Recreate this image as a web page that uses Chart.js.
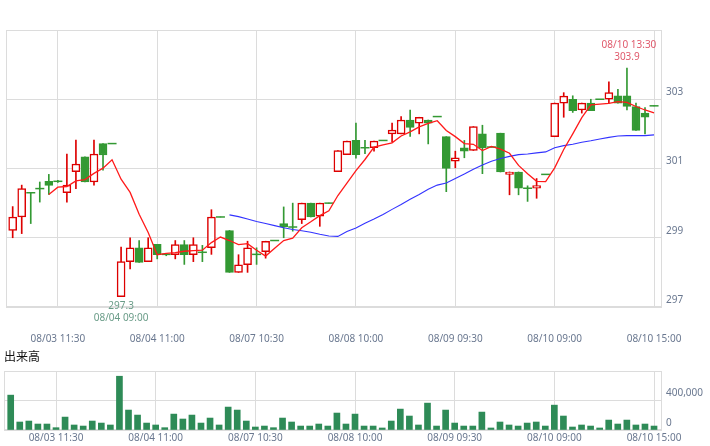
<!DOCTYPE html>
<html>
<head>
<meta charset="utf-8">
<script src="https://cdn.jsdelivr.net/npm/chart.js@4.4.1/dist/chart.umd.min.js"></script>
<style>
html,body{margin:0;padding:0;background:#fff;overflow:hidden}
#wrap{position:relative;width:710px;height:446px}
#main{position:absolute;left:0;top:0}
#vol{position:absolute;left:0;top:350px}
#volTitle{position:absolute;left:4px;top:347px;font-family:"Noto Sans CJK JP",sans-serif;font-size:12px;line-height:18px;color:#111}
</style>
</head>
<body>
<div id="wrap">
<canvas id="main" width="710" height="350"></canvas>
<div id="volTitle">出来高</div>
<canvas id="vol" width="710" height="96"></canvas>
</div>
<script>
// ---------- data ----------
const days = ['08/03','08/04','08/07','08/08','08/09','08/10'];
const sessions = ['09:00','09:30','10:00','10:30','11:00','11:30','12:30','13:00','13:30','14:00','14:30','15:00'];
const categories = days.flatMap(d => sessions.map(s => d + ' ' + s));

const open  = [299.21,299.60,300.30,300.42,300.63,300.63,300.30,300.91,301.34,300.61,301.72,301.72,
               297.30,298.31,298.71,298.31,298.81,298.52,298.51,298.80,298.51,298.58,298.71,299.60,
               299.21,298.00,298.22,298.52,298.60,298.92,299.41,299.31,299.52,300.00,299.62,300.00,
               300.91,301.40,301.81,301.60,301.60,301.81,302.00,302.00,302.40,302.31,302.40,302.50,
               301.92,301.21,301.60,301.52,302.00,301.62,302.02,300.83,300.90,300.43,300.43,300.83,
               301.92,302.89,303.00,302.69,302.89,303.00,303.00,303.10,303.10,302.79,302.60,302.81];
const high  = [299.90,300.52,300.30,300.61,300.83,300.66,301.42,301.82,301.34,301.82,301.72,301.72,
               298.73,299.00,298.92,299.00,298.81,298.55,298.92,298.92,299.00,298.78,299.81,299.60,
               299.21,298.51,298.90,298.71,298.90,298.92,299.89,300.00,300.00,300.00,300.00,300.00,
               301.52,301.79,302.31,301.81,301.79,301.81,302.31,302.50,302.69,302.48,302.40,302.50,
               301.92,301.50,301.81,302.21,302.25,301.62,302.02,300.90,300.90,300.50,300.71,300.83,
               302.89,303.19,303.10,302.89,303.00,303.00,303.50,303.29,303.90,302.89,302.76,302.81];
const low   = [299.00,299.12,299.41,300.03,300.25,300.60,300.03,300.42,300.61,300.52,300.95,301.72,
               297.30,298.10,298.29,298.31,298.39,298.48,298.39,298.23,298.31,298.31,298.52,299.60,
               298.00,298.00,298.00,298.23,298.41,298.92,299.00,299.19,299.41,299.60,299.33,300.00,
               300.91,301.40,301.30,301.43,301.50,301.81,301.76,302.00,301.93,302.00,301.71,302.50,
               300.33,301.02,301.31,301.52,300.85,301.62,300.90,300.24,300.24,300.05,300.14,300.83,
               301.92,302.48,302.62,302.60,302.67,303.00,302.89,302.89,302.69,302.10,302.00,302.81];
const close = [299.60,300.42,300.30,300.42,300.51,300.63,300.52,301.13,300.61,301.42,301.39,301.72,
               298.31,298.71,298.29,298.71,298.51,298.52,298.80,298.51,298.80,298.58,299.60,299.60,
               298.00,298.22,298.71,298.52,298.90,298.92,299.31,299.31,300.00,299.60,300.00,300.00,
               301.52,301.79,301.40,301.60,301.79,301.81,302.11,302.40,302.19,302.48,302.31,302.50,
               301.00,301.31,301.50,302.21,301.60,301.62,300.90,300.90,300.43,300.43,300.51,300.83,
               302.89,303.09,302.67,302.89,302.67,303.00,303.19,302.89,302.79,302.10,302.48,302.81];
const ma5   = [null,null,null,null,300.25,300.46,300.48,300.64,300.68,300.86,301.01,301.25,
               300.69,300.31,299.68,299.15,298.51,298.55,298.57,298.61,298.63,298.64,298.86,299.02,
               298.92,298.80,298.83,298.64,298.47,298.70,298.92,298.99,299.29,299.46,299.64,299.78,
               300.22,300.58,300.94,301.26,301.62,301.68,301.74,301.94,302.06,302.20,302.30,302.38,
               302.10,301.92,301.72,301.70,301.52,301.64,301.56,301.44,301.09,300.85,300.63,300.62,
               301.02,301.55,302.00,302.47,302.84,302.86,302.88,302.93,302.91,302.79,302.69,302.61];
const ma25  = [null,null,null,null,null,null,null,null,null,null,null,null,
               null,null,null,null,null,null,null,null,null,null,null,null,
               299.66,299.61,299.54,299.47,299.41,299.35,299.29,299.24,299.20,299.16,299.10,299.05,
               299.04,299.18,299.28,299.42,299.54,299.67,299.82,299.96,300.11,300.25,300.40,300.52,
               300.58,300.71,300.84,300.98,301.10,301.21,301.29,301.35,301.40,301.42,301.45,301.48,
               301.60,301.66,301.70,301.76,301.80,301.85,301.90,301.94,301.95,301.95,301.95,301.97];
const volume = [467000,107000,120000,80000,80000,31000,173000,67000,53000,120000,93000,67000,
                720000,267000,200000,93000,67000,31000,213000,147000,200000,93000,160000,67000,
                307000,267000,120000,40000,53000,31000,160000,107000,53000,53000,80000,53000,
                227000,80000,213000,53000,53000,27000,120000,280000,187000,67000,360000,53000,
                267000,93000,53000,53000,240000,27000,107000,67000,53000,93000,107000,53000,
                333000,187000,40000,67000,53000,27000,133000,80000,133000,67000,80000,53000];

const xTickLabels = ['08/03 11:30','08/04 11:00','08/07 10:30','08/08 10:00','08/09 09:30','08/10 09:00','08/10 15:00'];
const priceTicks = [297, 299, 301, 303, 305];
const priceTickLabels = ['297', '299', '301', '303', ''];
const volTicks = [0, 400000];
const volTickLabels = ['0', '400,000'];
const priceMin = 297, priceMax = 305;
const volMin = 0, volMax = 790000;

// ---------- styles ----------
const RED = '#dd0000';
const GREEN = '#339933';
const VOL_GREEN = '#2e8b57';
const GRID = '#dcdcdc';
const TICK_COLOR = '#6a7890';
const FONT = {family: "'Noto Sans', 'DejaVu Sans', sans-serif", size: 10};

const idx = categories.map((_, i) => i);
const xTickPos = xTickLabels.map(l => categories.indexOf(l));

function xScale(pad, height) {
  return {
    type: 'linear', min: -0.74, max: 71.88, offset: false, bounds: 'data',
    afterBuildTicks: s => { s.ticks = xTickPos.map(v => ({value: v})); },
    afterFit: s => { s.height = height; s.paddingLeft = 0; s.paddingRight = 0; },
    ticks: {
      callback: v => categories[v], color: TICK_COLOR, font: FONT,
      padding: pad, maxRotation: 0, minRotation: 0, autoSkip: false
    },
    grid: {color: GRID, drawTicks: false, offset: false, lineWidth: 1},
    border: {display: false}
  };
}
function yScale(min, max, ticks, labels) {
  return {
    position: 'right', min: min, max: max, beginAtZero: false, bounds: 'data',
    afterBuildTicks: s => { s.ticks = ticks.map(v => ({value: v})); },
    afterFit: s => { s.width = 48; s.paddingTop = 0; s.paddingBottom = 0; },
    ticks: {
      callback: v => labels[ticks.indexOf(v)], color: TICK_COLOR, font: FONT,
      padding: 4, labelOffset: -7, autoSkip: false
    },
    grid: {color: GRID, drawTicks: false, lineWidth: 1},
    border: {display: false}
  };
}

const boxPlugin = {
  id: 'box',
  beforeDatasetsDraw(chart) {
    const {ctx, chartArea: a} = chart;
    ctx.save();
    ctx.strokeStyle = GRID; ctx.lineWidth = 1;
    ctx.strokeRect(Math.round(a.left) + 0.5, Math.round(a.top) + 0.5,
                   Math.round(a.right - a.left) - 1, Math.round(a.bottom - a.top) - 1);
    ctx.restore();
  }
};

const extremesPlugin = {
  id: 'extremes',
  afterDatasetsDraw(chart) {
    const {ctx, scales: {x, y}} = chart;
    const hiI = high.indexOf(Math.max(...high));
    const loI = low.indexOf(Math.min(...low));
    ctx.save();
    ctx.font = "10px 'Noto Sans', 'DejaVu Sans', sans-serif";
    ctx.textAlign = 'center'; ctx.textBaseline = 'middle';
    const hx = x.getPixelForValue(hiI), hy = y.getPixelForValue(high[hiI]);
    ctx.fillStyle = '#e05a6c';
    ctx.fillText(categories[hiI], hx + 2, hy - 23);
    ctx.fillText(high[hiI].toFixed(1), hx, hy - 10.5);
    const lx = x.getPixelForValue(loI), ly = y.getPixelForValue(low[loI]);
    ctx.fillStyle = '#6a9c88';
    ctx.fillText(low[loI].toFixed(1), lx, ly + 9.5);
    ctx.fillText(categories[loI], lx, ly + 22);
    ctx.restore();
  }
};

const isUp = i => close[i] > open[i];
const isDoji = i => close[i] === open[i];

new Chart(document.getElementById('main'), {
  type: 'bar',
  data: {
    datasets: [
      {
        type: 'line', label: 'MA5', order: 0,
        data: idx.map(i => ({x: i, y: ma5[i]})),
        borderColor: '#ff1a1a', borderWidth: 1.3, pointRadius: 0, tension: 0, spanGaps: false
      },
      {
        type: 'line', label: 'MA25', order: 0,
        data: idx.map(i => ({x: i, y: ma25[i]})),
        borderColor: '#3333ff', borderWidth: 1.1, pointRadius: 0, tension: 0, spanGaps: false
      },
      {
        type: 'line', label: 'doji', order: 1, showLine: false,
        data: idx.filter(isDoji).map(i => ({x: i, y: open[i]})),
        pointStyle: 'line', pointRadius: 4.5, pointHoverRadius: 4.5,
        pointBorderColor: GREEN, pointBackgroundColor: GREEN, pointBorderWidth: 1.5
      },
      {
        type: 'bar', label: 'body', order: 2, grouped: false,
        data: idx.filter(i => !isDoji(i)).map(i => ({x: i, y: [open[i], close[i]]})),
        barThickness: 8, borderSkipped: false, borderWidth: 1.5,
        backgroundColor: c => (c.raw && c.raw.y[1] > c.raw.y[0]) ? '#ffffff' : GREEN,
        borderColor: c => (c.raw && c.raw.y[1] > c.raw.y[0]) ? RED : GREEN
      },
      {
        type: 'bar', label: 'wick', order: 3, grouped: false,
        data: idx.map(i => ({x: i, y: [low[i], high[i]]})),
        barThickness: 1, borderWidth: 0,
        backgroundColor: c => isUp(c.dataIndex) ? RED : GREEN
      }
    ]
  },
  options: {
    responsive: false, animation: false, devicePixelRatio: 1,
    layout: {padding: {left: 4, top: 30, right: 0, bottom: 0}},
    plugins: {legend: {display: false}, tooltip: {enabled: false}},
    scales: {
      x: xScale(26, 43),
      y: yScale(priceMin, priceMax, priceTicks, priceTickLabels)
    }
  },
  plugins: [boxPlugin, extremesPlugin]
});

new Chart(document.getElementById('vol'), {
  type: 'bar',
  data: {
    datasets: [{
      label: '出来高',
      data: idx.map(i => ({x: i, y: volume[i]})),
      backgroundColor: VOL_GREEN, barThickness: 6, grouped: false, borderWidth: 0
    }]
  },
  options: {
    responsive: false, animation: false, devicePixelRatio: 1,
    layout: {padding: {left: 4, top: 21, right: 0, bottom: 0}},
    plugins: {legend: {display: false}, tooltip: {enabled: false}},
    scales: {
      x: xScale(2, 16),
      y: yScale(volMin, volMax, volTicks, volTickLabels)
    }
  },
  plugins: [boxPlugin]
});
</script>
</body>
</html>
